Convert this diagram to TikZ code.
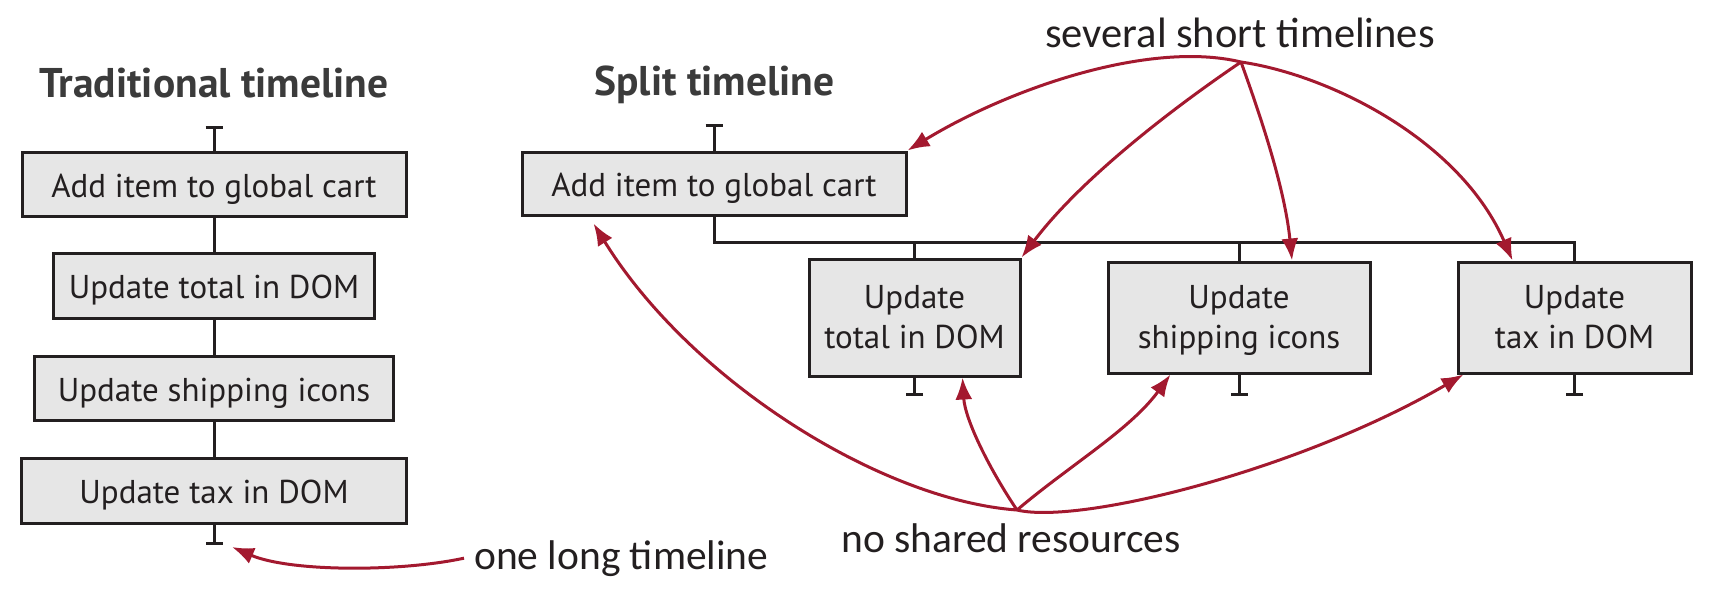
\documentclass[tikz,border=0pt]{standalone}
\usepackage{fontspec}
\setmainfont{PT Sans}
\newfontfamily\handfont{Carlito}
\usetikzlibrary{arrows.meta}
\definecolor{boxfill}{HTML}{E6E6E6}
\definecolor{ink}{HTML}{231F20}
\definecolor{titleink}{HTML}{3B3B3B}
\definecolor{arrowred}{HTML}{A3192F}
\begin{document}
\begin{tikzpicture}[x=1pt,y=-1pt,
  stepbox/.style={draw=ink, fill=boxfill, line width=3pt, inner sep=0pt,
    text height=26pt, text depth=0pt,
    font=\fontsize{33}{40}\selectfont, text=ink, align=center},
  twoline/.style={stepbox, text height=62pt},
  title/.style={font=\fontsize{41.5}{44}\selectfont\bfseries, text=titleink, anchor=base, inner sep=0pt},
  hand/.style={font=\handfont\fontsize{41.5}{44}\selectfont, text=ink, anchor=base west, inner sep=0pt},
  tl/.style={draw=ink, line width=3pt},
  tend/.style={tl, -{Bar[width=17pt]}},
  note/.style={draw=arrowred, line width=3pt, -{Latex[length=22pt,width=17pt]}}
]
\useasboundingbox (0,0) rectangle (1712,595);

% titles
\node[title] (t1) at (214,97) {Traditional timeline};
\node[title] (t2) at (714.5,95) {Split timeline};

% traditional timeline
\node[stepbox, minimum width=384pt, minimum height=64pt] (L1) at (214,184) {Add item to global cart};
\node[stepbox, minimum width=321pt, minimum height=65pt] (L2) at (214,285.5) {Update total in DOM};
\node[stepbox, minimum width=359pt, minimum height=64pt] (L3) at (214,388) {Update shipping icons};
\node[stepbox, minimum width=385pt, minimum height=65pt] (L4) at (214,490.5) {Update tax in DOM};
\coordinate (Ltop) at (214,126);
\coordinate (Lbot) at (214,545);
\draw[tend] (L1.north) -- (Ltop);
\draw[tl] (L1.south) -- (L2.north);
\draw[tl] (L2.south) -- (L3.north);
\draw[tl] (L3.south) -- (L4.north);
\draw[tend] (L4.south) -- (Lbot);

% split timeline
\node[stepbox, minimum width=384pt, minimum height=63pt] (A) at (714,183.5) {Add item to global cart};
\node[twoline, minimum width=211pt, minimum height=117pt] (B1) at (914.5,317.5) {Update\\total in DOM};
\node[twoline, minimum width=262pt, minimum height=111pt] (B2) at (1239,317.5) {Update\\shipping icons};
\node[twoline, minimum width=233pt, minimum height=111pt] (B3) at (1574.5,317.5) {Update\\tax in DOM};
\coordinate (Atop) at (714,124);
\coordinate (busL) at (714,242);
\coordinate (busR) at (1574.5,242);
\coordinate (B1bot) at (914.5,396);
\coordinate (B2bot) at (1239,396);
\coordinate (B3bot) at (1574.5,396);
\draw[tend] (A.north) -- (Atop);
\draw[tl] (A.south) -- (busL) -- (busR) -- (B3.north);
\draw[tl] (B1.north) -- (B1.north |- busL);
\draw[tl] (B2.north) -- (B2.north |- busL);
\draw[tend] (B1.south) -- (B1bot);
\draw[tend] (B2.south) -- (B2bot);
\draw[tend] (B3.south) -- (B3bot);

% annotations
\node[hand] (n1) at (474,569) {one long timeline};
\node[hand, font=\handfont\fontsize{42.5}{44}\selectfont] (n2) at (1045,47) {several short timelines};
\node[hand] (n3) at (841,552) {no shared resources};
\coordinate (ltip) at (232,547);
\coordinate (src) at (1241,62);
\coordinate (res) at (1017,510);

\draw[note] ([xshift=-10pt]n1.west) .. controls (400,572) and (290,572) .. (ltip);

\draw[note] (src) .. controls (1150,40) and (1010,88) .. (A.north east);
\draw[note] (src) .. controls (1170,110) and (1080,180) .. (B1.north east);
\draw[note] (src) .. controls (1262,120) and (1285,190) .. ([xshift=53pt]B2.north);
\draw[note] (src) .. controls (1330,75) and (1460,140) .. ([xshift=-62pt]B3.north);

\draw[note] (res) .. controls (880,500) and (690,380) .. ([xshift=73pt,yshift=-7pt]A.south west);
\draw[note] (res) .. controls (990,470) and (965,420) .. ([xshift=48pt]B1.south);
\draw[note] (res) .. controls (1070,465) and (1130,430) .. ([xshift=64pt]B2.south west);
\draw[note] (res) .. controls (1080,525) and (1300,470) .. ([xshift=7pt]B3.south west);
\end{tikzpicture}
\end{document}
